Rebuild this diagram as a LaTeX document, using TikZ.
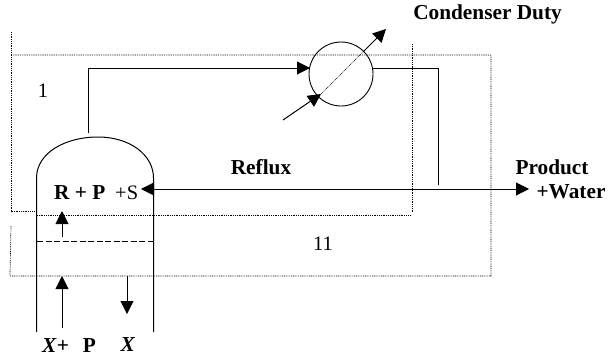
\documentclass[tikz,border=0pt]{standalone}
\usepackage{fontspec}
\setmainfont{Liberation Serif}
\usetikzlibrary{arrows.meta}
\tikzset{
  x=1pt,y=-1pt,
  pipe/.style={line width=1pt},
  flow/.style={line width=1pt,-{Triangle[length=13pt,width=13pt]}},
  boundary/.style={line width=0.7pt,dash pattern=on 0.9pt off 0.9pt},
  lbl/.style={inner sep=0pt,font=\fontsize{20.5}{22}\selectfont},
  blbl/.style={inner sep=0pt,font=\fontsize{21.3}{23}\selectfont\bfseries}
}
\begin{document}
\begin{tikzpicture}
\useasboundingbox (0,0) rectangle (609,359);
% boundaries
\coordinate (a1) at (11,32); \coordinate (a2) at (11,211); \coordinate (a3) at (35,211);
\coordinate (a4) at (37,215); \coordinate (a5) at (411,215); \coordinate (a6) at (412.5,44); \coordinate (a7) at (412.5,213);
\coordinate (b1) at (11,55); \coordinate (b2) at (491,55); \coordinate (b3) at (491,276); \coordinate (b4) at (10,276); \coordinate (b5) at (11,226);
\draw[boundary] (a1) -- (a2) -- (a3);
\draw[boundary] (a4) -- (a5);
\draw[boundary] (a6) -- (a7);
\draw[boundary] (b1) -- (b2) -- (b3) -- (b4) -- (b5);
% column
\coordinate (cl) at (36.5,332); \coordinate (cr) at (153.5,332);
\coordinate (cls) at (36.5,178); \coordinate (crs) at (153.5,178);
\draw[pipe] (cl) -- (cls) .. controls (36.5,153) and (65,137) .. (98,137) .. controls (130,137) and (153.5,155) .. (crs) -- (cr);
\coordinate (dl) at (37,241); \coordinate (dr) at (153,241);
\draw[line width=0.9pt,dash pattern=on 6pt off 2.5pt] (dl) -- (dr);
% condenser
\node[circle,draw,line width=0.9pt,minimum size=64pt,inner sep=0pt] (cond) at (341,74) {};
\coordinate (vap) at (88,133); \coordinate (vapc) at (88,68); \coordinate (condin) at (310,68);
\draw[flow] (vap) -- (vapc) -- (condin);
\coordinate (condout) at (373,68); \coordinate (c2) at (438.7,68); \coordinate (c3) at (438.7,185);
\draw[pipe] (condout) -- (c2) -- (c3);
% cooling
\coordinate (w0) at (283,120); \coordinate (w1) at (321,94); \coordinate (w2) at (363,52); \coordinate (w3) at (386,29);
\draw[flow] (w0) -- (w1);
\draw[line width=0.6pt,dash pattern=on 1pt off 0.8pt] (w1) -- (w2);
\draw[flow] (w2) -- (w3);
% main line
\coordinate (p0) at (153,189); \coordinate (rfx) at (141,189); \coordinate (prd) at (529,189);
\draw[flow] (p0) -- (rfx);
\draw[flow] (p0) -- (prd);
% internal arrows
\coordinate (u1) at (62,237); \coordinate (u2) at (62,211);
\draw[flow] (u1) -- (u2);
\coordinate (v1) at (62,328); \coordinate (v2) at (62,276);
\draw[flow] (v1) -- (v2);
\coordinate (d1) at (127,276); \coordinate (d2) at (127,314);
\draw[flow] (d1) -- (d2);
% labels
\node[blbl] (duty) at (487.5,14.5) {Condenser Duty};
\node[blbl] (reflux) at (261,167) {Reflux};
\node[blbl] (product) at (552,167) {Product};
\node[blbl] (water) at (571,192) {+Water};
\node[lbl] (one) at (43,91) {1};
\node[lbl] (eleven) at (323,244) {11};
\node[blbl,anchor=west] (rp) at (54,193) {R + P};
\node[lbl,anchor=west] (s) at (115,193) {+S};
\node[blbl,anchor=west] (xp) at (42,346) {\textit{X}+\hspace{14pt}P};
\node[blbl] (x) at (128,345) {\textit{X}};
\end{tikzpicture}
\end{document}
